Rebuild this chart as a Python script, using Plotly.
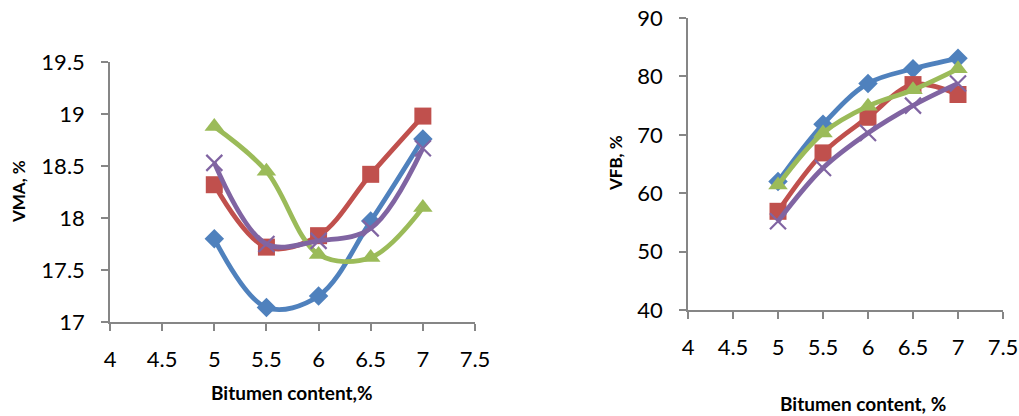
import plotly.graph_objects as go

# Bitumen content (%) for each mix
bitumen = [5, 5.5, 6, 6.5, 7]

# Voids in mineral aggregate (VMA, %)
vma_blue = [17.80, 17.14, 17.25, 17.97, 18.76]
vma_red = [18.32, 17.72, 17.83, 18.42, 18.98]
vma_green = [18.88, 18.45, 17.65, 17.62, 18.10]
vma_purple = [18.53, 17.75, 17.78, 17.90, 18.67]

# Voids filled with bitumen (VFB, %)
vfb_blue = [62.0, 71.8, 78.8, 81.3, 83.1]
vfb_red = [56.9, 66.9, 73.0, 78.6, 76.9]
vfb_green = [61.4, 70.3, 74.9, 77.7, 81.3]
vfb_purple = [55.2, 64.3, 70.3, 75.0, 78.8]

x_ticks = [4, 4.5, 5, 5.5, 6, 6.5, 7, 7.5]
vma_ticks = [17, 17.5, 18, 18.5, 19, 19.5]
vfb_ticks = [40, 50, 60, 70, 80, 90]

BLUE = "#4F81BD"
RED = "#C0504D"
GREEN = "#9BBB59"
PURPLE = "#8064A2"
AXIS = "#868686"
FONT = "Lato"

styles = [
    (BLUE, dict(symbol="diamond", size=15)),
    (RED, dict(symbol="square", size=17)),
    (GREEN, dict(symbol="triangle-up", size=17)),
    (PURPLE, dict(symbol="x-thin", size=16, line=dict(width=2.2, color=PURPLE))),
]

fig = go.Figure()

for (color, mk), ys in zip(styles, [vma_blue, vma_red, vma_green, vma_purple]):
    fig.add_trace(go.Scatter(
        x=bitumen, y=ys, mode="lines+markers",
        line=dict(color=color, width=4.8, shape="spline", smoothing=1),
        marker=dict(color=color, **mk),
        xaxis="x", yaxis="y", showlegend=False,
    ))

for (color, mk), ys in zip(styles, [vfb_blue, vfb_red, vfb_green, vfb_purple]):
    fig.add_trace(go.Scatter(
        x=bitumen, y=ys, mode="lines+markers",
        line=dict(color=color, width=4.8, shape="spline", smoothing=1),
        marker=dict(color=color, **mk),
        xaxis="x2", yaxis="y2", showlegend=False,
    ))

W, H = 1019, 416


def px_x(p):
    return p / W


def px_y(p):
    return 1 - p / H


axis_common = dict(
    showgrid=False, zeroline=False, showline=True, automargin=False,
    linecolor=AXIS, linewidth=1.5,
    ticks="outside", ticklen=7, tickcolor=AXIS, tickwidth=1.5,
    tickfont=dict(family=FONT, size=22, color="#000000"),
)

fig.update_layout(
    width=W, height=H,
    margin=dict(l=0, r=0, t=0, b=0),
    paper_bgcolor="white", plot_bgcolor="white",
    xaxis=dict(domain=[px_x(110), px_x(475)], range=[4, 7.5],
               tickvals=x_ticks, anchor="y", ticklabelstandoff=10,
               **axis_common),
    yaxis=dict(domain=[px_y(322), px_y(62)], range=[17, 19.5],
               tickvals=vma_ticks, anchor="x", ticklabelstandoff=12,
               **axis_common),
    xaxis2=dict(domain=[px_x(688), px_x(1003)], range=[4, 7.5],
                tickvals=x_ticks, anchor="y2", ticklabelstandoff=10,
                **axis_common),
    yaxis2=dict(domain=[px_y(310), px_y(18)], range=[40, 90],
                tickvals=vfb_ticks, anchor="x2", ticklabelstandoff=12,
                **axis_common),
)


def label(text, x, y, size, angle=0):
    fig.add_annotation(
        text=f"<b>{text}</b>", x=px_x(x), y=px_y(y),
        xref="paper", yref="paper", showarrow=False,
        textangle=angle, font=dict(family=FONT, size=size, color="#000000"),
        xanchor="center", yanchor="middle",
    )


label("Bitumen content,%", 292, 392, 19)
label("VMA, %", 18, 192, 17, -90)
label("Bitumen content, %", 863, 403, 19)
label("VFB, %", 615, 163, 17, -90)

fig.write_html("out.html")
